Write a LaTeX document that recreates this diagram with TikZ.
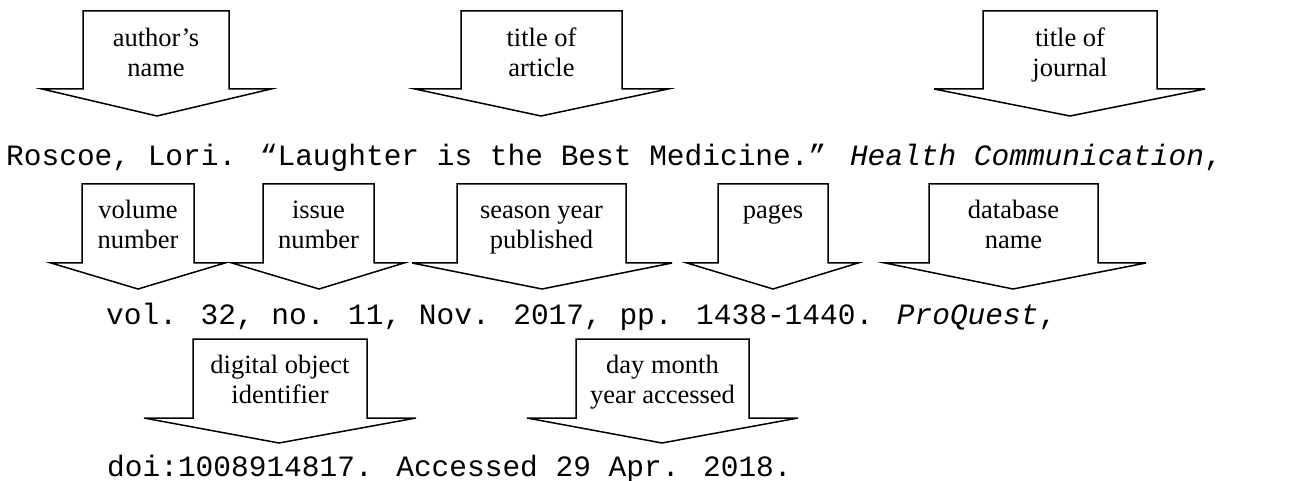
\documentclass[tikz,border=0pt]{standalone}
\usepackage{fontspec}
\setmainfont{Liberation Serif}
\newfontfamily\citemono{Liberation Mono}
\tikzset{
  arrowbox/.style={draw=black, line width=1.5pt, line join=miter, fill=white},
  lbl/.style={font=\fontsize{26.5}{30}\selectfont, align=center, anchor=base, inner sep=0pt},
  cite/.style={font=\citemono\fontsize{29.5}{29.5}\selectfont, anchor=base west, inner sep=0pt},
}
% L R WL WR tipx top shoulder tipy
\newcommand\citearrow[8]{%
  \draw[arrowbox] (#1,#6) -- (#2,#6) -- (#2,#7) -- (#4,#7) -- (#5,#8) -- (#3,#7) -- (#1,#7) -- cycle;}
\begin{document}
\begin{tikzpicture}[x=1pt,y=-1pt]
\useasboundingbox (0,0) rectangle (1315,481);
% row 1
\citearrow{83}{229}{42}{271}{157}{11}{89}{116}
\citearrow{461}{622}{415}{668}{541}{11}{89}{116}
\citearrow{983}{1157}{934}{1205}{1070}{11}{89}{116}
\node[lbl] (author) at (156,77) {author’s\\name};
\node[lbl] (article) at (541.5,77) {title of\\article};
\node[lbl] (journal) at (1070,77) {title of\\journal};
\node[cite] (line1) at (6,166) {Roscoe, Lori. “Laughter is the Best Medicine.” \textit{Health Communication},};
% row 2
\citearrow{82}{194}{51}{225}{138}{184}{263}{289}
\citearrow{263}{374}{232}{404}{319}{184}{263}{289}
\citearrow{457}{626}{412}{672}{542}{184}{263}{289}
\citearrow{718}{828}{687}{858}{773}{184}{263}{289}
\citearrow{929}{1098}{885}{1146}{1013}{184}{263}{289}
\node[lbl] (volume) at (138,249) {volume\\number};
\node[lbl] (issue) at (318.5,249) {issue\\number};
\node[lbl] (season) at (541.5,249) {season year\\published};
\node[lbl] (pages) at (773,219) {pages};
\node[lbl] (database) at (1013.5,249) {database\\name};
\node[cite] (line2) at (106,324) {vol. 32, no. 11, Nov. 2017, pp. 1438-1440. \textit{ProQuest},};
% row 3
\citearrow{193}{367}{144}{416}{279}{339}{418}{443}
\citearrow{576}{749}{527}{798}{662}{339}{418}{443}
\node[lbl] (doi) at (280,403) {digital object\\identifier};
\node[lbl] (accessed) at (662.5,403) {day month\\year accessed};
\node[cite] (line3) at (107,476) {doi:1008914817. Accessed 29 Apr. 2018.};
\end{tikzpicture}
\end{document}
